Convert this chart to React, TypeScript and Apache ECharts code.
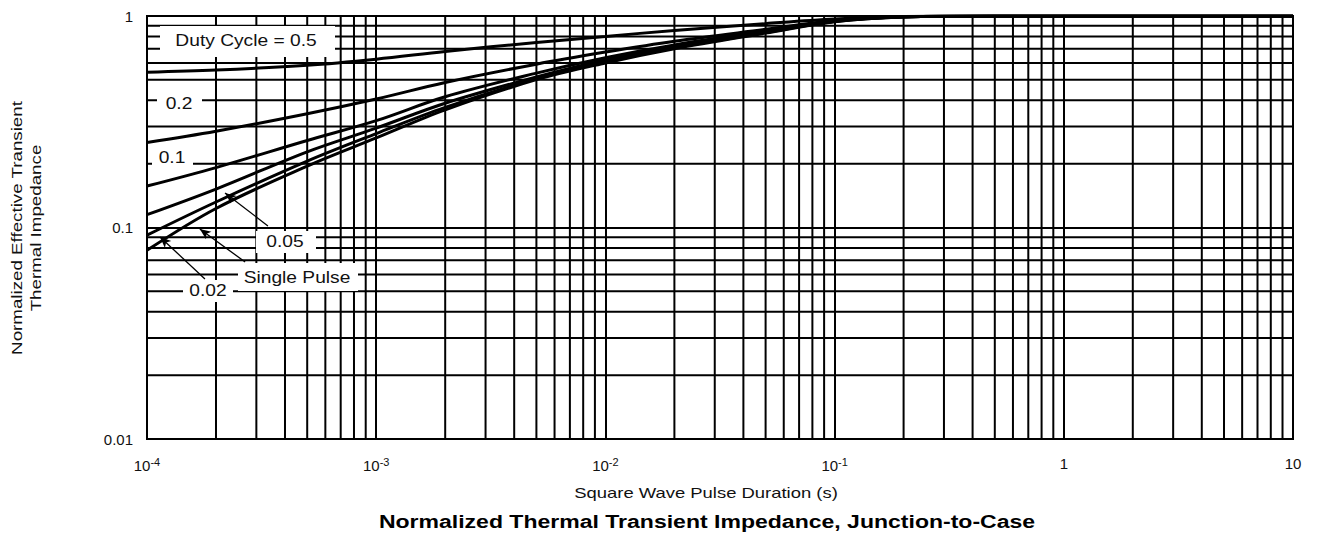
import React, { useEffect, useRef } from "react";
import * as echarts from "echarts";

// Pulse duration (s) sample points
const pulseDurations = [1e-4, 2e-4, 5e-4, 1e-3, 2e-3, 5e-3, 1e-2, 2e-2, 5e-2, 0.1, 0.2, 0.5, 1, 10];

// Normalized effective transient thermal impedance per duty cycle
const duty05 = [0.542, 0.555, 0.585, 0.625, 0.68, 0.75, 0.8, 0.855, 0.92, 0.967, 0.995, 1, 1, 1];
const duty02 = [0.252, 0.285, 0.345, 0.405, 0.485, 0.592, 0.675, 0.76, 0.865, 0.952, 0.993, 1, 1, 1];
const duty01 = [0.157, 0.192, 0.258, 0.32, 0.415, 0.537, 0.635, 0.73, 0.85, 0.947, 0.992, 1, 1, 1];
const duty005 = [0.115, 0.152, 0.228, 0.295, 0.387, 0.515, 0.62, 0.715, 0.84, 0.944, 0.991, 1, 1, 1];
const duty002 = [0.092, 0.132, 0.206, 0.278, 0.37, 0.505, 0.61, 0.708, 0.835, 0.942, 0.99, 1, 1, 1];
const singlePulse = [0.078, 0.123, 0.195, 0.265, 0.36, 0.5, 0.6, 0.7, 0.83, 0.94, 0.99, 1, 1, 1];

const xTickLabels = ["10{s|-4}", "10{s|-3}", "10{s|-2}", "10{s|-1}", "1", "10"];
const yTickLabels = ["0.01", "0.1", "1"];

// annotation arrows: [fromX, fromY, toX, toY] in data units
const arrow005 = [3.37e-4, 0.1017, 2.19e-4, 0.1456];
const arrowSingle = [2.68e-4, 0.0687, 1.7e-4, 0.0984];
const arrow002 = [1.79e-4, 0.0571, 1.14e-4, 0.0902];

const FONT = "Liberation Sans, Arial, sans-serif";

export default function App() {
  const ref = useRef<HTMLDivElement>(null);

  useEffect(() => {
    if (!ref.current) return;
    const chart = echarts.init(ref.current, undefined, { renderer: "svg" });

    const xMinor: number[] = [];
    for (let d = -4; d <= 0; d++) {
      for (let m = 2; m <= 9; m++) xMinor.push(m * Math.pow(10, d));
    }
    const yMinor: number[] = [];
    for (let d = -2; d <= -1; d++) {
      for (let m = 2; m <= 9; m++) yMinor.push(m * Math.pow(10, d));
    }

    const gridStyle = { color: "#000", width: 2 };
    const gridSeries = [
      ...xMinor.map((v) => ({
        type: "line",
        data: [
          [v, 0.01],
          [v, 1],
        ],
        showSymbol: false,
        silent: true,
        z: 1,
        lineStyle: gridStyle,
      })),
      ...yMinor.map((v) => ({
        type: "line",
        data: [
          [1e-4, v],
          [10, v],
        ],
        showSymbol: false,
        silent: true,
        z: 1,
        lineStyle: gridStyle,
      })),
    ];

    const curves = [duty05, duty02, duty01, duty005, duty002, singlePulse];
    const names = ["0.5", "0.2", "0.1", "0.05", "0.02", "Single Pulse"];

    const curveSeries = curves.map((vals, k) => ({
      type: "line",
      name: names[k],
      data: pulseDurations.map((x, i) => [x, vals[i]]),
      showSymbol: false,
      smooth: 0.35,
      z: 3,
      lineStyle: { color: "#000", width: 3 },
      silent: true,
    }));

    const arrows = [arrow005, arrowSingle, arrow002];

    const box = (x: number, y: number, w: number, h: number) => ({
      type: "rect",
      z: 2,
      shape: { x, y, width: w, height: h },
      style: { fill: "#fff" },
      silent: true,
    });
    const label = (text: string, x: number, y: number) => ({
      type: "text",
      z: 2,
      x,
      y,
      scaleX: 1.2,
      style: {
        text,
        fill: "#111",
        font: `16px ${FONT}`,
        align: "center",
        verticalAlign: "middle",
      },
      silent: true,
    });

    chart.setOption({
      animation: false,
      grid: {
        left: 147,
        right: 26,
        top: 16,
        bottom: 94,
        show: true,
        borderColor: "#000",
        borderWidth: 2,
        backgroundColor: "#fff",
      },
      xAxis: {
        type: "log",
        logBase: 10,
        min: 1e-4,
        max: 10,
        axisLine: { show: false },
        axisTick: { show: false },
        splitLine: { show: true, lineStyle: { color: "#000", width: 2 } },
        axisLabel: {
          margin: 17,
          color: "#111",
          fontFamily: FONT,
          fontSize: 15,
          formatter: (v: number) => xTickLabels[Math.round(Math.log10(v)) + 4] ?? "",
          rich: {
            s: { fontSize: 11, verticalAlign: "top", padding: [0, 0, 8, 0], fontFamily: FONT, color: "#111" },
          },
        },
      },
      yAxis: {
        type: "log",
        logBase: 10,
        min: 0.01,
        max: 1,
        axisLine: { show: false },
        axisTick: { show: false },
        splitLine: { show: true, lineStyle: { color: "#000", width: 2 } },
        axisLabel: {
          margin: 14,
          color: "#111",
          fontFamily: FONT,
          fontSize: 15,
          formatter: (v: number) => yTickLabels[Math.round(Math.log10(v)) + 2] ?? "",
        },
      },
      series: [
        ...gridSeries,
        ...curveSeries,
        {
          type: "line",
          data: [],
          z: 4,
          silent: true,
          markLine: {
            z: 4,
            silent: true,
            symbol: ["none", "arrow"],
            symbolSize: [7, 11],
            label: { show: false },
            lineStyle: { color: "#000", width: 1.3, type: "solid" },
            data: arrows.map((a) => [{ coord: [a[0], a[1]] }, { coord: [a[2], a[3]] }]),
          },
        },
      ],
      graphic: [
        box(160, 26, 175, 31),
        label("Duty Cycle = 0.5", 246, 41),
        box(157, 91, 45, 25),
        label("0.2", 179, 104),
        box(152, 147, 41, 23),
        label("0.1", 172, 158),
        box(256, 231, 60, 22),
        label("0.05", 285, 242),
        box(238, 263, 120, 28),
        label("Single Pulse", 297, 278),
        box(183, 280, 50, 22),
        label("0.02", 208, 291),
        {
          type: "text",
          x: 706,
          y: 493,
          scaleX: 1.23,
          style: {
            text: "Square Wave Pulse Duration (s)",
            fill: "#111",
            font: `15px ${FONT}`,
            align: "center",
            verticalAlign: "middle",
          },
        },
        {
          type: "text",
          x: 707,
          y: 521,
          scaleX: 1.28,
          style: {
            text: "Normalized Thermal Transient Impedance, Junction-to-Case",
            fill: "#000",
            font: `bold 18px ${FONT}`,
            align: "center",
            verticalAlign: "middle",
          },
        },
        {
          type: "text",
          x: 27,
          y: 228,
          rotation: Math.PI / 2,
          scaleX: 1.25,
          style: {
            text: "Normalized Effective Transient\nThermal Impedance",
            fill: "#111",
            font: `15px ${FONT}`,
            align: "center",
            verticalAlign: "middle",
            lineHeight: 19,
          },
        },
      ],
    });

    return () => chart.dispose();
  }, []);

  return (
    <div
      ref={ref}
      style={{ position: "fixed", left: 0, top: 0, width: 1319, height: 533, background: "#fff" }}
    />
  );
}
